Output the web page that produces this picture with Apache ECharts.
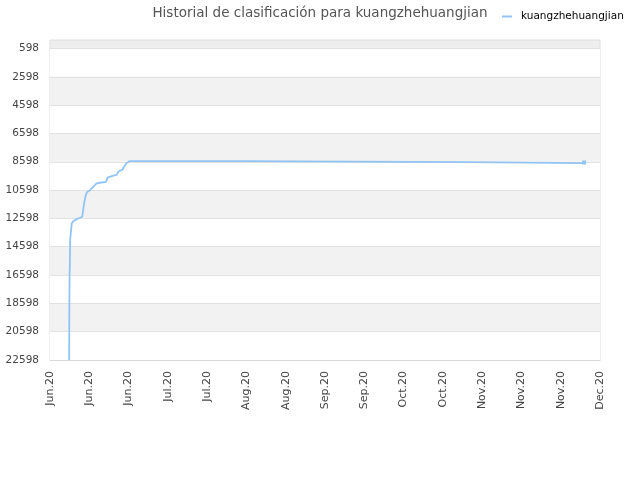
<!DOCTYPE html>
<html>
<head>
<meta charset="utf-8">
<script src="https://cdn.jsdelivr.net/npm/echarts@6/dist/echarts.min.js"></script>
<style>html,body{margin:0;padding:0;background:#fff}#c{width:640px;height:480px}</style>
</head>
<body>
<div id="c"></div>
<script>
var titleText = 'Historial de clasificación para kuangzhehuangjian';
var seriesName = 'kuangzhehuangjian';
var monthNames = ['Jan','Feb','Mar','Apr','May','Jun','Jul','Aug','Sep','Oct','Nov','Dec'];
var dates = [
  '2020-06-07 20:00','2020-06-07 21:00','2020-06-07 22:00','2020-06-07 23:00','2020-06-08 00:00',
  '2020-06-08 02:00','2020-06-08 04:00','2020-06-08 18:00','2020-06-09 06:00','2020-06-10 12:00',
  '2020-06-11 12:00','2020-06-12 12:00','2020-06-12 22:00','2020-06-13 06:00','2020-06-13 18:00',
  '2020-06-14 06:00','2020-06-15 06:00','2020-06-16 06:00','2020-06-17 12:00','2020-06-18 18:00',
  '2020-06-21 00:00','2020-06-21 12:00','2020-06-23 00:00','2020-06-24 21:00','2020-06-25 06:00',
  '2020-06-26 00:00','2020-06-26 20:00','2020-06-27 12:00','2020-06-28 06:00','2020-06-29 06:00',
  '2020-08-08 12:00','2020-08-08 20:00','2020-10-28 12:00','2020-10-29 00:00','2020-12-08 00:00',
  '2020-12-08 08:00'
];
var ranks = [
  22598, 19780, 18150, 17300, 16460,
  15800, 14140, 12950, 12800, 12650,
  12570, 12480, 11880, 11430, 10960,
  10730, 10610, 10400, 10140, 10080,
  10020, 9716, 9620, 9500, 9320,
  9230, 9150, 8920, 8700, 8560,
  8560, 8630, 8630, 8700, 8700,
  8650
];
var yTickStart = 598, yMax = 22598, yStep = 2000;
var xStart = '2020-06-01 00:00', xEnd = '2020-12-14 00:00', xStepDays = 14;

function ts(s){
  var p = s.split(/[- :]/).map(Number);
  return Date.UTC(p[0], p[1]-1, p[2], p[3]||0, p[4]||0);
}
var data = dates.map(function(d, i){
  var item = {value: [ts(d), ranks[i]]};
  if (i === dates.length - 1) { item.symbol = 'rect'; item.symbolSize = 4; }
  return item;
});

var chart = echarts.init(document.getElementById('c'), null, {renderer: 'canvas'});
var font = 'DejaVu Sans';
chart.setOption({
  animation: false,
  title: {
    text: titleText, left: 'center', top: 1,
    textStyle: {fontFamily: font, fontSize: 13.5, fontWeight: 'normal', color: '#555'}
  },
  legend: {
    left: 497, top: 6, itemWidth: 10, itemHeight: 2, icon: 'rect',
    data: [{name: seriesName}],
    textStyle: {fontFamily: font, fontSize: 10.5, color: '#000', padding: [0,0,0,4]}
  },
  grid: [
    {left: 50, right: 40, top: 40, bottom: 120, show: true, backgroundColor: '#eeeeee', borderColor: '#dddddd', borderWidth: 1, z: 0},
    {left: 50, right: 40, top: 48.47, bottom: 120, show: false}
  ],
  xAxis: [
    {gridIndex: 0, type: 'value', min: 0, max: 1, show: false},
    {
      gridIndex: 1, type: 'value', min: ts(xStart), max: ts(xEnd), interval: xStepDays*86400000,
      axisLine: {show: true, lineStyle: {color: '#d8d8d8'}},
      axisTick: {show: false},
      splitLine: {show: false},
      axisLabel: {
        rotate: 90, margin: 11, fontFamily: font, fontSize: 11, color: '#444',
        formatter: function(v){ var d = new Date(v); return monthNames[d.getUTCMonth()] + '.' + String(d.getUTCFullYear()).slice(2); }
      }
    }
  ],
  yAxis: [
    {gridIndex: 0, type: 'value', min: 0, max: 1, show: false},
    {
      gridIndex: 1, type: 'value', inverse: true, min: yTickStart, max: yMax, interval: yStep,
      axisLine: {show: false}, axisTick: {show: false},
      splitLine: {show: true, lineStyle: {color: '#e2e2e2'}},
      splitArea: {show: true, areaStyle: {color: ['#ffffff', '#f2f2f2']}},
      axisLabel: {margin: 11, fontFamily: font, fontSize: 10.5, color: '#444', formatter: function(v){ return String(v); }}
    }
  ],
  series: [{
    name: seriesName, type: 'line', xAxisIndex: 1, yAxisIndex: 1,
    data: data, showSymbol: true, symbol: 'none',
    lineStyle: {color: '#92c4f3', width: 1.8},
    itemStyle: {color: '#92c4f3'},
    clip: true
  }]
});
</script>
</body>
</html>
